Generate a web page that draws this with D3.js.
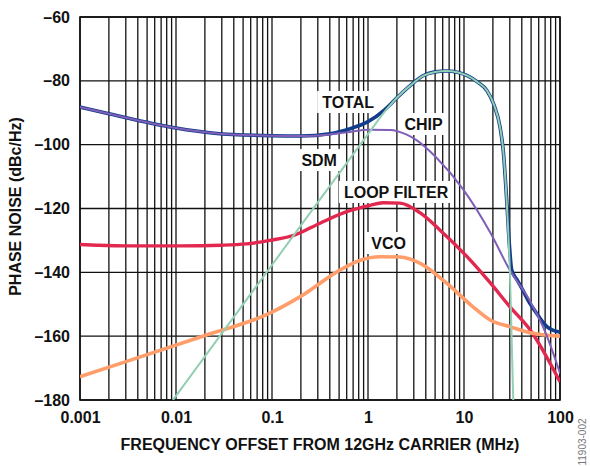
<!DOCTYPE html>
<html>
<head>
<meta charset="utf-8">
<script src="https://cdn.jsdelivr.net/npm/d3@7"></script>
<style>
  body { margin: 0; background: #fff; }
  text { font-family: "Liberation Sans", Arial, sans-serif; font-weight: bold; }
</style>
</head>
<body>
<div id="chart"></div>
<script>
// values: [frequency offset (MHz), phase noise (dBc/Hz)]
var totalData = [[0.001,-88.2],[0.002,-90.3],[0.005,-93],[0.01,-94.8],[0.025,-96.4],[0.1,-97.2],
  [0.2,-97.3],[0.4,-96.6],[0.65,-95],[1,-92.8],[1.5,-89],[2,-85.3],[2.75,-81.5],[3.7,-78.5],
  [5,-77.2],[6.5,-76.9],[8.5,-77.3],[10.7,-78.3],[14,-80.5],[17.3,-83],[20.5,-87.5],[23.7,-94.4],
  [25.6,-101.7],[27.8,-117],[29.8,-132],[31.4,-139.3],[36,-142.5],[41,-145.6],[48,-149.5],
  [57,-152.8],[65,-155.3],[73,-157],[85,-158.2],[100,-158.7]];
var chipData = [[0.001,-88.2],[0.002,-90.3],[0.005,-93],[0.01,-94.8],[0.025,-96.4],[0.1,-97.2],
  [0.2,-97.3],[0.4,-96.8],[0.65,-96],[1,-95.3],[1.7,-95.4],[2.5,-96.8],[3.2,-98.6],[5.2,-104.2],
  [9.8,-114],[18.9,-127.7],[30,-139.3],[48,-148.7],[70.8,-159],[100,-171.6]];
var sdmData = [[0.0093,-180],[0.01,-178.7],[0.1,-137.7],[1,-96.7],[1.5,-89.6],[2,-85.3],
  [2.75,-81.5],[3.7,-78.5],[5,-77.2],[6.5,-76.9],[8.5,-77.3],[10.7,-78.3],[14,-80.5],[17.3,-83],
  [20.5,-87.5],[23.7,-94.4],[25.6,-101.7],[27.8,-117.4],[30.1,-140.3],[32.6,-180]];
var loopData = [[0.001,-131.3],[0.0015,-131.5],[0.003,-131.7],[0.011,-131.7],[0.03,-131.5],
  [0.054,-131.1],[0.095,-130],[0.173,-128.3],[0.316,-124.6],[0.6,-121],[1.05,-119],[1.43,-118.2],
  [2.15,-118.3],[3.5,-121.4],[5.6,-126.7],[10.7,-135],[18.9,-143.4],[30.1,-150.8],[48.7,-158],
  [100,-174.3]];
var vcoData = [[0.001,-172.7],[0.0028,-168.3],[0.019,-160],[0.095,-152.8],[0.195,-147.7],
  [0.51,-139.3],[0.83,-136.2],[1.33,-135.1],[2.15,-135.2],[3.5,-137.2],[6.6,-143.4],[12.4,-150.8],
  [18.9,-155],[30,-157],[48.7,-158.9],[100,-160]];

var xTicks = [0.001, 0.01, 0.1, 1, 10, 100];
var xTickLabels = ["0.001", "0.01", "0.1", "1", "10", "100"];
var yTicks = [-180, -160, -140, -120, -100, -80, -60];

// label anchor points (text baseline centre) in data units
var seriesLabels = [
  {name: "TOTAL", f: 0.62, db: -88.5},
  {name: "CHIP", f: 3.79, db: -95.4},
  {name: "SDM", f: 0.31, db: -106.7},
  {name: "LOOP FILTER", f: 1.96, db: -116.7},
  {name: "VCO", f: 1.64, db: -132.7}
];

var margin = {top: 17, right: 30, bottom: 66, left: 80},
    width = 590 - margin.left - margin.right,
    height = 466 - margin.top - margin.bottom;

var x = d3.scaleLog().domain([0.001, 100]).range([0, width]);
var y = d3.scaleLinear().domain([-180, -60]).range([height, 0]);

var svg = d3.select("#chart").append("svg")
    .attr("width", width + margin.left + margin.right)
    .attr("height", height + margin.top + margin.bottom);

var g = svg.append("g")
    .attr("transform", "translate(" + margin.left + "," + margin.top + ")");

// log grid: every 1..9 in each decade
var gridX = [];
for (var e = -3; e < 2; e++) {
  for (var m = 1; m < 10; m++) gridX.push(m * Math.pow(10, e));
}
gridX.push(100);

g.selectAll(".vgrid").data(gridX).enter().append("line")
    .attr("x1", function(d) { return x(d); })
    .attr("x2", function(d) { return x(d); })
    .attr("y1", 0).attr("y2", height)
    .attr("stroke", "#111").attr("stroke-width", 1.3);

g.selectAll(".hgrid").data(yTicks).enter().append("line")
    .attr("x1", 0).attr("x2", width)
    .attr("y1", function(d) { return y(d); })
    .attr("y2", function(d) { return y(d); })
    .attr("stroke", "#111").attr("stroke-width", 1.3);

g.append("rect")
    .attr("width", width).attr("height", height)
    .attr("fill", "none").attr("stroke", "#111").attr("stroke-width", 1.6);

// axes (labels only, grid drawn above)
var xAxis = d3.axisBottom(x).tickValues(xTicks)
    .tickFormat(function(d, i) { return xTickLabels[i]; }).tickSize(0).tickPadding(12);
var yAxis = d3.axisLeft(y).tickValues(yTicks)
    .tickFormat(function(d) { return "\u2013" + Math.abs(d); }).tickSize(0).tickPadding(10);

g.append("g").attr("transform", "translate(0," + height + ")").call(xAxis)
    .call(function(s) { s.select(".domain").remove(); })
    .selectAll("text").attr("font-size", 16).attr("fill", "#111")
    .style("font-family", "'Liberation Sans', Arial, sans-serif").style("font-weight", "bold");

g.append("g").call(yAxis)
    .call(function(s) { s.select(".domain").remove(); })
    .selectAll("text").attr("font-size", 16).attr("fill", "#111")
    .style("font-family", "'Liberation Sans', Arial, sans-serif").style("font-weight", "bold");

// series labels on white boxes (under the curves, over the grid)
var labelLayer = g.append("g");
seriesLabels.forEach(function(l) {
  var t = labelLayer.append("text")
      .attr("x", x(l.f)).attr("y", y(l.db))
      .attr("text-anchor", "middle")
      .attr("font-size", 16).attr("fill", "#111")
      .text(l.name);
  var bb = t.node().getBBox();
  labelLayer.insert("rect", function() { return t.node(); })
      .attr("x", bb.x - 5).attr("y", y(l.db) - 17)
      .attr("width", bb.width + 10).attr("height", 22)
      .attr("fill", "#fff");
});

var line = d3.line()
    .curve(d3.curveMonotoneX)
    .x(function(d) { return x(d[0]); })
    .y(function(d) { return y(d[1]); });

var defs = svg.append("defs");
defs.append("clipPath").attr("id", "clip").append("rect")
    .attr("width", width).attr("height", height);

var curves = g.append("g").attr("clip-path", "url(#clip)");

function addCurve(data, color, w) {
  curves.append("path")
      .datum(data)
      .attr("fill", "none")
      .attr("stroke", color)
      .attr("stroke-width", w)
      .attr("stroke-linejoin", "round")
      .attr("d", line);
}

addCurve(totalData, "#123c8c", 3.6);
addCurve(loopData, "#e2284f", 3.4);
addCurve(vcoData, "#ff9e6a", 3.6);
addCurve(chipData, "#7f5fb8", 2);
addCurve(sdmData, "#93cfb2", 2);

// axis titles
svg.append("text")
    .attr("x", margin.left + width / 2).attr("y", 450)
    .attr("text-anchor", "middle").attr("font-size", 16).attr("fill", "#111")
    .text("FREQUENCY OFFSET FROM 12GHz CARRIER (MHz)");

svg.append("text")
    .attr("transform", "translate(21," + (margin.top + height / 2 - 2) + ") rotate(-90)")
    .attr("text-anchor", "middle").attr("font-size", 16).attr("fill", "#111")
    .text("PHASE NOISE (dBc/Hz)");

svg.append("text")
    .attr("transform", "translate(586,442) rotate(-90)")
    .attr("text-anchor", "middle").attr("font-size", 10).attr("fill", "#777")
    .style("font-weight", "normal")
    .text("11903-002");
</script>
</body>
</html>
